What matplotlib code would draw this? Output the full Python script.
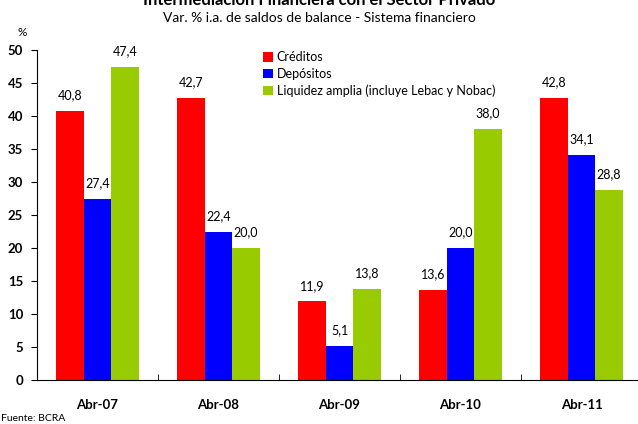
import numpy as np
import matplotlib
matplotlib.use("Agg")
import matplotlib.pyplot as plt

plt.rcParams['font.family'] = ['Lato', 'DejaVu Sans']

categorias = ["Abr-07", "Abr-08", "Abr-09", "Abr-10", "Abr-11"]
creditos = [40.8, 42.7, 11.9, 13.6, 42.8]
depositos = [27.4, 22.4, 5.1, 20.0, 34.1]
liquidez = [47.4, 20.0, 13.8, 38.0, 28.8]
series = ["Créditos", "Depósitos", "Liquidez amplia (incluye Lebac y Nobac)"]
colores = ["#ff0000", "#0000ff", "#99cc00"]

fig = plt.figure(figsize=(6.38, 4.24), dpi=100)
ax = fig.add_axes([37/638, 44/424, 605/638, 330/424])

x = np.arange(len(categorias))
w = 0.226
for i, (vals, nombre, c) in enumerate(zip([creditos, depositos, liquidez], series, colores)):
    pos = x + (i - 1) * w
    ax.bar(pos, vals, w, color=c, label=nombre, linewidth=0)
    for p, v in zip(pos, vals):
        ax.annotate(f"{v:.1f}".replace(".", ","), (p, v), xytext=(0, 7),
                    textcoords="offset points", ha="center", va="bottom", fontsize=9)

ax.set_xlim(-0.5, len(categorias) - 0.5)
ax.set_ylim(0, 50)
ax.set_yticks(range(0, 51, 5))
ax.set_xticks(x)
ax.set_xticklabels(categorias, fontweight="bold", fontsize=9.5)
ax.set_xticks(np.arange(0.5, len(categorias) - 0.5), minor=True)
for lab in ax.get_yticklabels():
    lab.set_fontweight("bold")
    lab.set_fontsize(9.5)
ax.tick_params(axis="x", which="major", length=0, pad=14)
ax.tick_params(axis="x", which="minor", direction="in", length=4)
ax.tick_params(axis="y", direction="out", length=4, pad=6)
for s in ["top", "right"]:
    ax.spines[s].set_visible(False)

ax.legend(loc="upper left", bbox_to_anchor=(0.355, 1.03), frameon=False, fontsize=9,
          handlelength=0.8, handleheight=0.8, handletextpad=0.3, labelspacing=0.35)

# el titulo queda cortado arriba, como en el original
fig.text(0.5, 1.0, "Intermediación Financiera con el Sector Privado", ha="center", va="center",
         fontsize=12, fontweight="bold")
fig.text(0.5, 1 - 18/424, "Var. % i.a. de saldos de balance - Sistema financiero",
         ha="center", va="center", fontsize=10)
fig.text(18/638, 1 - 33/424, "%", ha="left", va="center", fontsize=8.5)
fig.text(0.002, 0.002, "Fuente: BCRA", ha="left", va="bottom", fontsize=7.5)

fig.savefig("out.png", dpi=100)
